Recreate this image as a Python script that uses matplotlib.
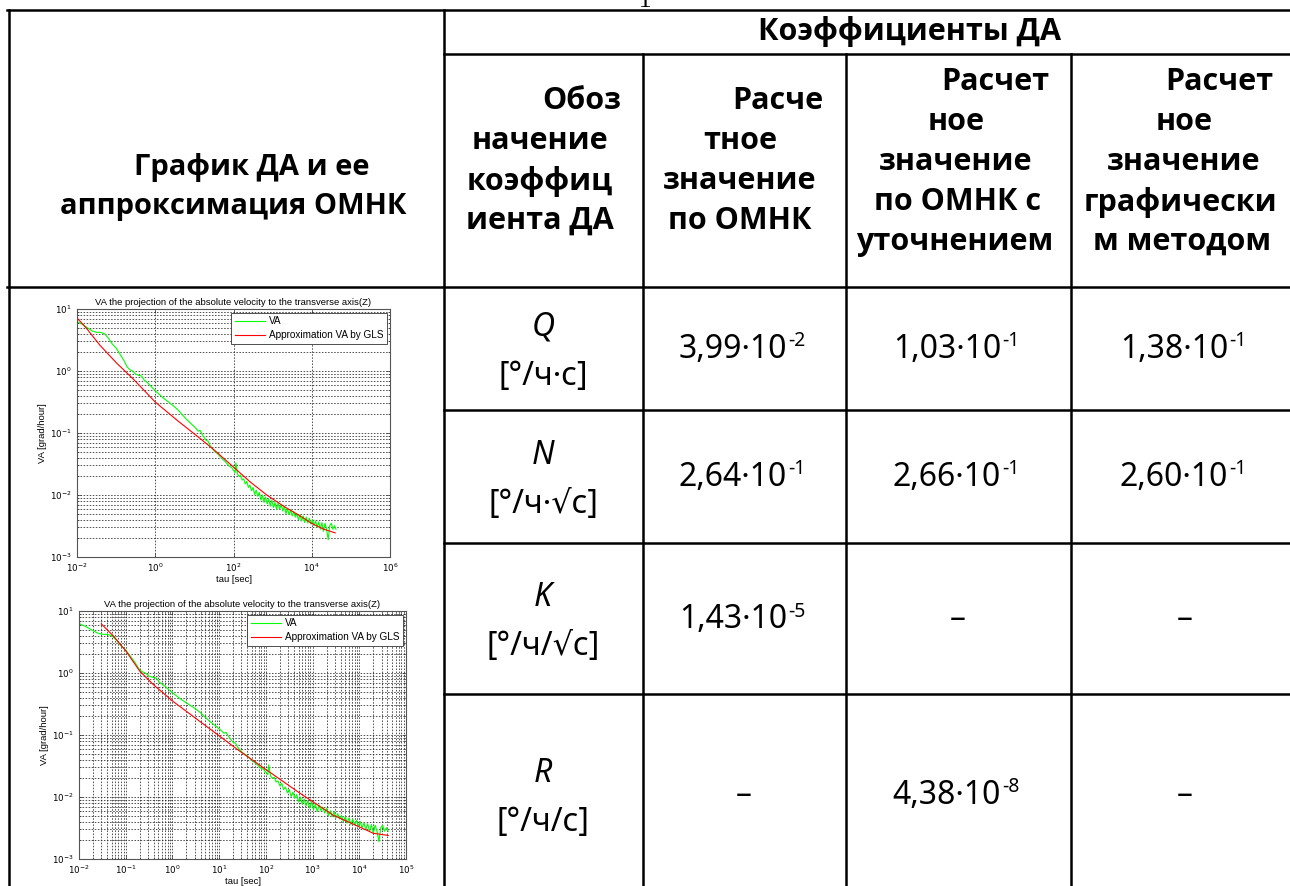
import matplotlib.pyplot as plt
from matplotlib.ticker import LogLocator, NullLocator, NullFormatter

# VA (Allan deviation) of the Z-axis channel: tau [sec] -> VA [grad/hour]
va_tau = [0.01, 0.0141, 0.02, 0.025, 0.0316, 0.04, 0.05, 0.063, 0.079, 0.1,
          0.126, 0.158, 0.19, 0.224, 0.263, 0.316, 0.38, 0.447, 0.525, 0.63,
          0.79, 1.0, 1.26, 1.58, 2.0, 2.5, 3.16, 3.98, 5.0, 6.3,
          7.9, 10, 11.2, 12.6, 14.1, 15.8, 20, 22.4, 25.1, 31.6,
          39.8, 50.1, 63, 79, 89, 100, 110, 115, 126, 138,
          151, 166, 182, 200, 219, 240, 263, 288, 316, 347,
          380, 417, 457, 501, 550, 603, 661, 724, 794, 871,
          955, 1047, 1148, 1259, 1380, 1514, 1660, 1820, 1995, 2188,
          2399, 2630, 2884, 3162, 3467, 3802, 4169, 4571, 5012, 5495,
          6026, 6607, 7244, 7943, 8710, 9550, 10470, 11480, 12590, 13800,
          15140, 16600, 18200, 19950, 21880, 23990, 26300, 28840, 31620, 34670,
          38020, 41690]
va_dev = [6.3, 5.6, 4.8, 4.4, 4.2, 4.2, 4.0, 3.4, 2.75, 2.35,
          1.86, 1.48, 1.17, 1.05, 1.0, 0.89, 0.85, 0.83, 0.71, 0.65,
          0.56, 0.48, 0.42, 0.37, 0.33, 0.295, 0.263, 0.229, 0.195, 0.166,
          0.145, 0.126, 0.117, 0.107, 0.110, 0.095, 0.076, 0.074, 0.063, 0.052,
          0.046, 0.039, 0.034, 0.029, 0.028, 0.025, 0.0229, 0.033, 0.0219, 0.020,
          0.0209, 0.0174, 0.0182, 0.0151, 0.0166, 0.0132, 0.0145, 0.0117, 0.0132, 0.0102,
          0.0120, 0.00955, 0.0110, 0.0083, 0.0100, 0.0076, 0.0093, 0.0072, 0.0087, 0.0066,
          0.0083, 0.0063, 0.0076, 0.0058, 0.0074, 0.0060, 0.0069, 0.0055, 0.0066, 0.0050,
          0.0060, 0.0048, 0.0058, 0.0046, 0.0054, 0.0044, 0.0050, 0.0040, 0.0048, 0.0038,
          0.0046, 0.0036, 0.0044, 0.00355, 0.0042, 0.0034, 0.0040, 0.0032, 0.0038, 0.0030,
          0.0037, 0.0028, 0.0036, 0.0026, 0.0035, 0.0028, 0.0019, 0.0032, 0.0035, 0.0028,
          0.0032, 0.0028]

# GLS approximation, first fit
gls1_tau = [0.01, 0.0174, 0.038, 0.102, 0.275, 1.0, 3.55, 14.1, 31.6, 100,
            269, 708, 1905, 5130, 10000, 19950, 39800]
gls1_dev = [7.2, 4.9, 2.63, 1.35, 0.74, 0.316, 0.162, 0.0813, 0.0537, 0.0282,
            0.0162, 0.0100, 0.0066, 0.00457, 0.00347, 0.00282, 0.00245]

# GLS approximation, refined fit
gls2_tau = [0.030, 0.054, 0.102, 0.2, 0.39, 1.02, 2.0, 7.4, 27.5, 102,
            537, 2754, 10000, 19950, 41700]
gls2_dev = [6.2, 3.98, 2.24, 1.07, 0.65, 0.35, 0.24, 0.115, 0.055, 0.0275,
            0.0115, 0.0051, 0.0033, 0.0026, 0.0024]

coef_names = ["Q", "N", "K", "R"]
coef_units = ["[°/ч·с]", "[°/ч·√с]", "[°/ч/√с]", "[°/ч/с]"]
# (mantissa, power of ten); None means the value is not defined
gls_values = [("3,99", "-2"), ("2,64", "-1"), ("1,43", "-5"), None]
refined_values = [("1,03", "-1"), ("2,66", "-1"), None, ("4,38", "-8")]
graphic_values = [("1,38", "-1"), ("2,60", "-1"), None, None]

W, H = 1290, 886
HEAD_FONT = ["Open Sans", "DejaVu Sans"]
TEXT_FONT = ["Noto Sans", "DejaVu Sans"]
PLOT_FONT = ["Liberation Sans", "DejaVu Sans"]

plt.rcParams["mathtext.fontset"] = "custom"
plt.rcParams["mathtext.rm"] = "Liberation Sans"

fig = plt.figure(figsize=(W / 100, H / 100), dpi=100)
tab = fig.add_axes([0, 0, 1, 1])
tab.set_xlim(0, W)
tab.set_ylim(H, 0)
tab.axis("off")

# table grid (pixel coordinates, y going down)
col_x = [444, 643, 846, 1071]
row_y = [287, 410, 543, 694]
lw = 1.8
tab.plot([9, 9], [10, H], color="black", lw=lw)
tab.plot([7, W], [10, 10], color="black", lw=lw)
tab.plot([7, W], [287, 287], color="black", lw=lw)
tab.plot([444, W], [54, 54], color="black", lw=lw)
tab.plot([444, 444], [10, H], color="black", lw=lw)
for x in col_x[1:]:
    tab.plot([x, x], [54, H], color="black", lw=lw)
for y in row_y[1:]:
    tab.plot([444, W], [y, y], color="black", lw=lw)

# page number peeking over the top edge
tab.text(645, 7, "1", ha="center", va="baseline", fontsize=18,
         family=["Liberation Serif"])

head = dict(family=HEAD_FONT, fontweight="bold", fontsize=22,
            ha="center", va="center")
tab.text(910, 31, "Коэффициенты ДА", **head)
tab.text(252, 167, "График ДА и ее", **{**head, "fontsize": 21})
tab.text(233, 206, "аппроксимация ОМНК", **{**head, "fontsize": 21})

c = 161
for i, (s, x) in enumerate(zip(["Обоз", "начение", "коэффиц", "иента ДА"],
                               [582, 540, 540, 540])):
    tab.text(x, c - 60 + 40 * i, s, **head)
for i, (s, x) in enumerate(zip(["Расче", "тное", "значение", "по ОМНК"],
                               [778, 740, 740, 740])):
    tab.text(x, c - 60 + 40 * i, s, **head)
for i, (s, x) in enumerate(zip(["Расчет", "ное", "значение", "по ОМНК с",
                                "уточнением"],
                               [995, 956, 956, 958, 955])):
    tab.text(x, c - 79 + 40 * i, s, **head)
for i, (s, x) in enumerate(zip(["Расчет", "ное", "значение", "графически",
                                "м методом"],
                               [1219, 1184, 1184, 1180, 1182])):
    tab.text(x, c - 79 + 40 * i, s, **head)

body = dict(family=TEXT_FONT, fontsize=23, va="center")


def put_value(x, y, val):
    if val is None:
        tab.text(x, y, "–", ha="center", **body)
        return
    mant, power = val
    base = tab.text(x - 11, y, f"{mant}·10", ha="center", **body)
    tab.annotate(power, xy=(1, 1), xycoords=base, xytext=(0.5, 1),
                 textcoords="offset points", ha="left", va="top",
                 fontsize=14, family=TEXT_FONT)


row_mid = [349, 477, 620, 795]
for i in range(4):
    tab.text(543, row_mid[i] - 22, coef_names[i], ha="center",
             style="italic", **body)
    tab.text(543, row_mid[i] + 27, coef_units[i], ha="center", **body)
    put_value(744, row_mid[i], gls_values[i])
    put_value(958, row_mid[i], refined_values[i])
    put_value(1185, row_mid[i], graphic_values[i])


def va_plot(rect, tau_ticks, minor_x, gls_tau, gls_dev):
    l, t, r, b = rect
    ax = fig.add_axes([l / W, 1 - b / H, (r - l) / W, (b - t) / H])
    ax.set_xscale("log")
    ax.set_yscale("log")
    ax.plot(va_tau, va_dev, color="#00ff00", lw=0.8, label="VA")
    ax.plot(gls_tau, gls_dev, color="#ff0000", lw=0.8,
            label="Approximation VA by GLS")
    ax.set_xlim(tau_ticks[0], tau_ticks[-1])
    ax.set_ylim(1e-3, 1e1)
    ax.set_xticks(tau_ticks)
    if minor_x:
        ax.xaxis.set_minor_locator(LogLocator(base=10, subs=range(2, 10)))
    else:
        ax.xaxis.set_minor_locator(NullLocator())
    ax.xaxis.set_minor_formatter(NullFormatter())
    ax.yaxis.set_major_locator(LogLocator(base=10, numticks=10))
    ax.yaxis.set_minor_locator(LogLocator(base=10, subs=range(2, 10), numticks=10))
    ax.yaxis.set_minor_formatter(NullFormatter())
    grid = dict(color="#222222", lw=0.55, ls=(0, (2, 2)))
    ax.grid(True, which="both", axis="y", **grid)
    ax.grid(True, which="both" if minor_x else "major", axis="x", **grid)
    ax.tick_params(which="both", direction="in", top=True, right=True,
                   labelsize=6.3, width=0.5, colors="#333333")
    ax.tick_params(axis="x", pad=3)
    ax.tick_params(axis="y", pad=4)
    ax.tick_params(which="major", length=3)
    ax.tick_params(which="minor", length=1.5)
    for s in ax.spines.values():
        s.set_color("#555555")
        s.set_linewidth(0.8)
    for lab in ax.get_xticklabels() + ax.get_yticklabels():
        lab.set_color("black")
    ax.set_title("VA the projection of the absolute velocity to the transverse axis(Z)",
                 fontsize=6.8, family=PLOT_FONT, pad=3)
    ax.set_xlabel("tau [sec]", fontsize=6.8, family=PLOT_FONT, labelpad=1)
    ax.set_ylabel("VA [grad/hour]", fontsize=6.8, family=PLOT_FONT, labelpad=2)
    leg = ax.legend(loc="upper right", bbox_to_anchor=(0.99, 0.985),
                    borderaxespad=0, fancybox=False, framealpha=1,
                    edgecolor="#333333", handlelength=3.0, handletextpad=0.4,
                    borderpad=0.35, labelspacing=0.4,
                    prop=dict(family=PLOT_FONT, size=7.2))
    leg.get_frame().set_linewidth(0.6)
    return ax


va_plot((77, 309, 390, 557), [1e-2, 1e0, 1e2, 1e4, 1e6], False,
        gls1_tau, gls1_dev)
va_plot((79, 611, 406, 859), [10.0 ** k for k in range(-2, 6)], True,
        gls2_tau, gls2_dev)

fig.savefig("out.png", dpi=100)
